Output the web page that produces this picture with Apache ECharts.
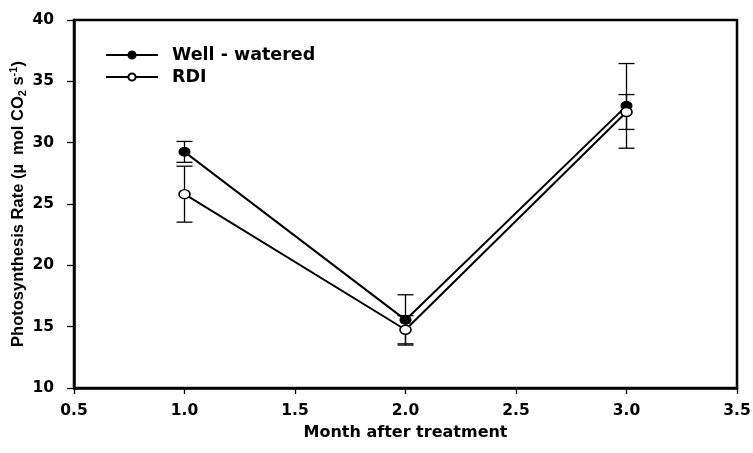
<!DOCTYPE html>
<html>
<head>
<meta charset="utf-8">
<script src="https://cdn.jsdelivr.net/npm/echarts@6/dist/echarts.min.js"></script>
<style>
html,body{margin:0;padding:0;background:#fff;}
#chart{width:753px;height:453px;}
</style>
</head>
<body>
<div id="chart"></div>
<script>
// ---- data ----
var months = [1.0, 2.0, 3.0];
var wwMean = [29.25, 15.55, 33.0];
var wwErr  = [0.85, 2.05, 3.45];
var rdiMean = [25.8, 14.75, 32.5];
var rdiErr  = [2.28, 1.15, 1.42];
var seriesNames = ['Well - watered', 'RDI'];
var xTicks = [0.5, 1.0, 1.5, 2.0, 2.5, 3.0, 3.5];
var yTicks = [10, 15, 20, 25, 30, 35, 40];

var FONT = 'DejaVu Sans';

function pairs(xs, ys) { return xs.map(function (x, i) { return [x, ys[i]]; }); }
function errData(xs, m, e) { return xs.map(function (x, i) { return [x, m[i] - e[i], m[i] + e[i]]; }); }

function renderErr(params, api) {
  var x = api.value(0);
  var lo = api.coord([x, api.value(1)]);
  var hi = api.coord([x, api.value(2)]);
  var hw = 8;
  var style = { stroke: '#000', lineWidth: 1.3 };
  return {
    type: 'group',
    children: [
      { type: 'line', shape: { x1: lo[0], y1: lo[1], x2: hi[0], y2: hi[1] }, style: style },
      { type: 'line', shape: { x1: lo[0] - hw, y1: lo[1], x2: lo[0] + hw, y2: lo[1] }, style: style },
      { type: 'line', shape: { x1: hi[0] - hw, y1: hi[1], x2: hi[0] + hw, y2: hi[1] }, style: style }
    ]
  };
}

var chart = echarts.init(document.getElementById('chart'), null, { renderer: 'canvas' });
var option = {
  backgroundColor: '#fff',
  animation: false,
  grid: { left: 74, right: 16, top: 20, bottom: 65, containLabel: false, outerBoundsMode: 'none', show: true, borderColor: '#000', borderWidth: 2.5, backgroundColor: 'transparent' },
  legend: {
    data: seriesNames,
    orient: 'vertical',
    left: 105,
    top: 45,
    padding: 0,
    itemWidth: 52,
    itemHeight: 9,
    itemGap: 2,
    textStyle: { fontFamily: FONT, fontWeight: 'bold', fontSize: 17.5, color: '#000', lineHeight: 20, padding: [0, 0, 0, 9] }
  },
  xAxis: {
    type: 'value',
    min: xTicks[0],
    max: xTicks[xTicks.length - 1],
    interval: 0.5,
    name: 'Month after treatment',
    nameLocation: 'middle',
    nameGap: 37,
    nameMoveOverlap: false,
    nameTextStyle: { fontFamily: FONT, fontWeight: 'bold', fontSize: 16, color: '#000' },
    axisLine: { show: true, lineStyle: { color: '#000', width: 2.5 } },
    axisTick: { show: true, inside: false, length: 6, lineStyle: { color: '#000', width: 1.3 } },
    axisLabel: { margin: 15, fontFamily: FONT, fontWeight: 'bold', fontSize: 15.5, color: '#000', formatter: function (v) { return v.toFixed(1); } },
    splitLine: { show: false }
  },
  yAxis: {
    type: 'value',
    min: yTicks[0],
    max: yTicks[yTicks.length - 1],
    interval: 5,
    name: '{a|Photosynthesis Rate (µ  mol CO}{sub|2}{a| s}{sup|-1}{a|)}',
    nameLocation: 'middle',
    nameGap: 46,
    nameRotate: 90,
    nameMoveOverlap: false,
    nameTextStyle: {
      color: '#000',
      rich: {
        a: { fontFamily: 'Liberation Sans', fontWeight: 'bold', fontSize: 16.5, lineHeight: 20, color: '#000' },
        sub: { fontFamily: 'Liberation Sans', fontWeight: 'bold', fontSize: 11, lineHeight: 10, verticalAlign: 'bottom', color: '#000' },
        sup: { fontFamily: 'Liberation Sans', fontWeight: 'bold', fontSize: 11, lineHeight: 10, verticalAlign: 'top', color: '#000' }
      }
    },
    axisLine: { show: true, lineStyle: { color: '#000', width: 2.5 } },
    axisTick: { show: true, inside: false, length: 7, lineStyle: { color: '#000', width: 1.3 } },
    axisLabel: { margin: 20, fontFamily: FONT, fontWeight: 'bold', fontSize: 15.5, color: '#000' },
    splitLine: { show: false }
  },
  series: [
    {
      name: 'wwErr', type: 'custom', z: 1, silent: true,
      renderItem: renderErr, data: errData(months, wwMean, wwErr)
    },
    {
      name: 'rdiErr', type: 'custom', z: 1, silent: true,
      renderItem: renderErr, data: errData(months, rdiMean, rdiErr)
    },
    {
      name: seriesNames[0], type: 'line', z: 3,
      data: pairs(months, wwMean),
      symbol: 'circle', symbolSize: [11, 9],
      lineStyle: { color: '#000', width: 2 },
      itemStyle: { color: '#000', borderColor: '#000', borderWidth: 1 }
    },
    {
      name: seriesNames[1], type: 'line', z: 3,
      data: pairs(months, rdiMean),
      symbol: 'circle', symbolSize: [11, 9],
      lineStyle: { color: '#000', width: 2 },
      itemStyle: { color: '#fff', borderColor: '#000', borderWidth: 1.5 }
    }
  ]
};
chart.setOption(option);
</script>
</body>
</html>
